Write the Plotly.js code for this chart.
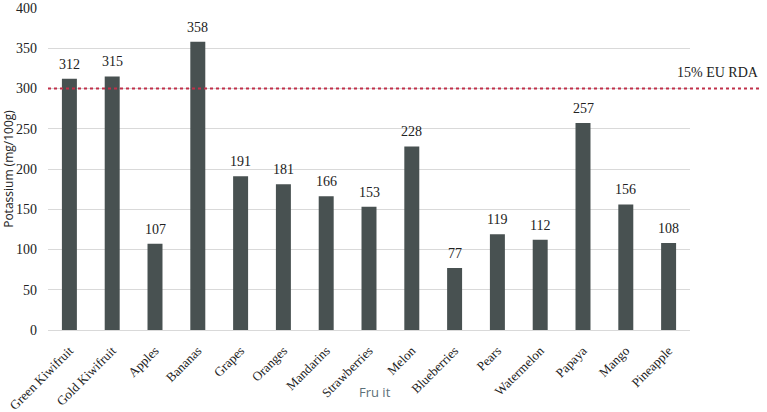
<!DOCTYPE html>
<html><head><meta charset="utf-8">
<script src="https://cdn.plot.ly/plotly-3.0.1.min.js"></script>
<style>body{margin:0;padding:0;background:#fff}#chart{width:767px;height:412px}</style>
</head><body><div id="chart"></div>
<script>
const fruits = ["Green Kiwifruit","Gold Kiwifruit","Apples","Bananas","Grapes","Oranges","Mandarins","Strawberries","Melon","Blueberries","Pears","Watermelon","Papaya","Mango","Pineapple"];
const potassium = [312,315,107,358,191,181,166,153,228,77,119,112,257,156,108];
const rdaValue = 300;
const rdaLabel = "15% EU RDA";

const serif = "Liberation Serif, Times New Roman, serif";
const trace = {
  type: "bar", x: fruits, y: potassium,
  marker: {color: "#485151"},
  hoverinfo: "none"
};
const valueLabels = fruits.map((f, i) => ({
  x: f, y: potassium[i], xref: "x", yref: "y", text: String(potassium[i]),
  showarrow: false, yanchor: "bottom", yshift: 5,
  font: {family: serif, size: 14, color: "#222"}
}));
const otherAnnotations = [
  {xref: "paper", yref: "y", x: 1.11, y: rdaValue, xanchor: "right", yanchor: "bottom",
   text: rdaLabel, showarrow: false, yshift: 7,
   font: {family: serif, size: 14, color: "#222"}},
  {xref: "paper", yref: "paper", x: (375 - 48) / 642, y: -0.193, xanchor: "center", yanchor: "middle",
   text: "Fru it", showarrow: false,
   font: {family: "Open Sans, sans-serif", size: 13, color: "#5b6f78"}}
];
const layout = {
  width: 767, height: 412,
  margin: {l: 48, r: 77, t: 8, b: 82},
  paper_bgcolor: "#fff", plot_bgcolor: "#fff",
  bargap: 0.65, showlegend: false,
  xaxis: {
    tickangle: -45, tickfont: {family: serif, size: 13, color: "#222"},
    ticklabelstandoff: 7,
    showgrid: false, showline: true, linecolor: "#d9d9d9", linewidth: 1, ticks: ""
  },
  yaxis: {
    range: [0, 400], dtick: 50, tickfont: {family: serif, size: 14, color: "#222"},
    ticklabelstandoff: 10,
    showgrid: true, gridcolor: "#d9d9d9", zeroline: false, ticks: "",
    title: {text: "Potassium (mg/100g)", font: {family: "Open Sans, sans-serif", size: 12, color: "#222"}, standoff: 2}
  },
  shapes: [{type: "line", xref: "paper", yref: "y", x0: 0, x1: 1.11, y0: rdaValue, y1: rdaValue,
            line: {color: "#c0304a", width: 2, dash: "dot"}}],
  annotations: valueLabels.concat(otherAnnotations)
};
Plotly.newPlot("chart", [trace], layout, {displayModeBar: false, staticPlot: true});
</script></body></html>
